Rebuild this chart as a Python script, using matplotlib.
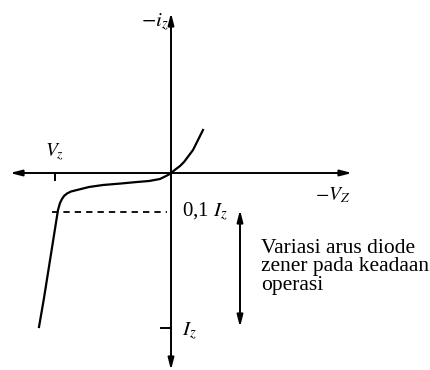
import numpy as np
import matplotlib
matplotlib.use("Agg")
import matplotlib.pyplot as plt

plt.rcParams['font.family'] = ['Liberation Serif', 'DejaVu Serif']
plt.rcParams['mathtext.fontset'] = 'stix'

# Zener diode characteristic (schematic units, origin at axis crossing)
fwd_v = [0, 5, 9, 13, 16, 19, 22, 24, 26, 29, 32]
fwd_i = [0, 4, 7, 11, 15, 19, 23, 27, 31, 37, 43]
rev_v = [0, -3, -11, -22, -34, -50, -68, -82, -94, -100, -104, -107, -109, -111, -113, -120, -127, -132]
rev_i = [0, -2, -6, -8, -9, -10.5, -12, -14, -17, -18.5, -20.5, -23, -26, -30, -37, -81, -125, -154]

vz_tick = -116      # V_z position on the horizontal axis
iz_01 = -39         # 0,1 I_z level
iz_max = -155       # I_z level

fig = plt.figure(figsize=(4.3, 3.7), dpi=100)
ax = fig.add_axes([0, 0, 1, 1])
ax.set_xlim(-171, 259)
ax.set_ylim(-197, 173)
ax.axis('off')

arrow = dict(arrowstyle='<|-|>,head_length=0.7,head_width=0.18', color='black',
             lw=1.4, shrinkA=0, shrinkB=0)

# axes
ax.annotate('', xy=(-161, 0), xytext=(181, 0), arrowprops=arrow)
ax.annotate('', xy=(0, 160), xytext=(0, -197), arrowprops=arrow)

# ticks
ax.plot([vz_tick, vz_tick], [0, -7], color='black', lw=1.4)
ax.plot([-10, 0], [iz_max, iz_max], color='black', lw=1.4)

# curve
ax.plot(fwd_v, fwd_i, color='black', lw=1.6)
ax.plot(rev_v, rev_i, color='black', lw=1.6)

# 0,1 Iz dashed level
ax.plot([-119, -4], [iz_01, iz_01], color='black', lw=1.3, ls=(0, (3.5, 2.8)))

# operating range arrow
ax.annotate('', xy=(69, -37), xytext=(69, -154), arrowprops=arrow)

ax.text(-16, 151, r'$-i_z$', fontsize=15, ha='center', va='center')
ax.text(-116, 21, r'$V_z$', fontsize=14, ha='center', va='center')
ax.text(162, -22, r'$-V_Z$', fontsize=14, ha='center', va='center')
ax.text(11, iz_01, r'0,1 $I_z$', fontsize=15, ha='left', va='center')
ax.text(11, iz_max - 3, r'$I_z$', fontsize=15, ha='left', va='center')
ax.text(90, -94, 'Variasi arus diode\nzener pada keadaan\noperasi', fontsize=15.5,
        ha='left', va='center', linespacing=0.95)

fig.savefig('out.png', dpi=100)
